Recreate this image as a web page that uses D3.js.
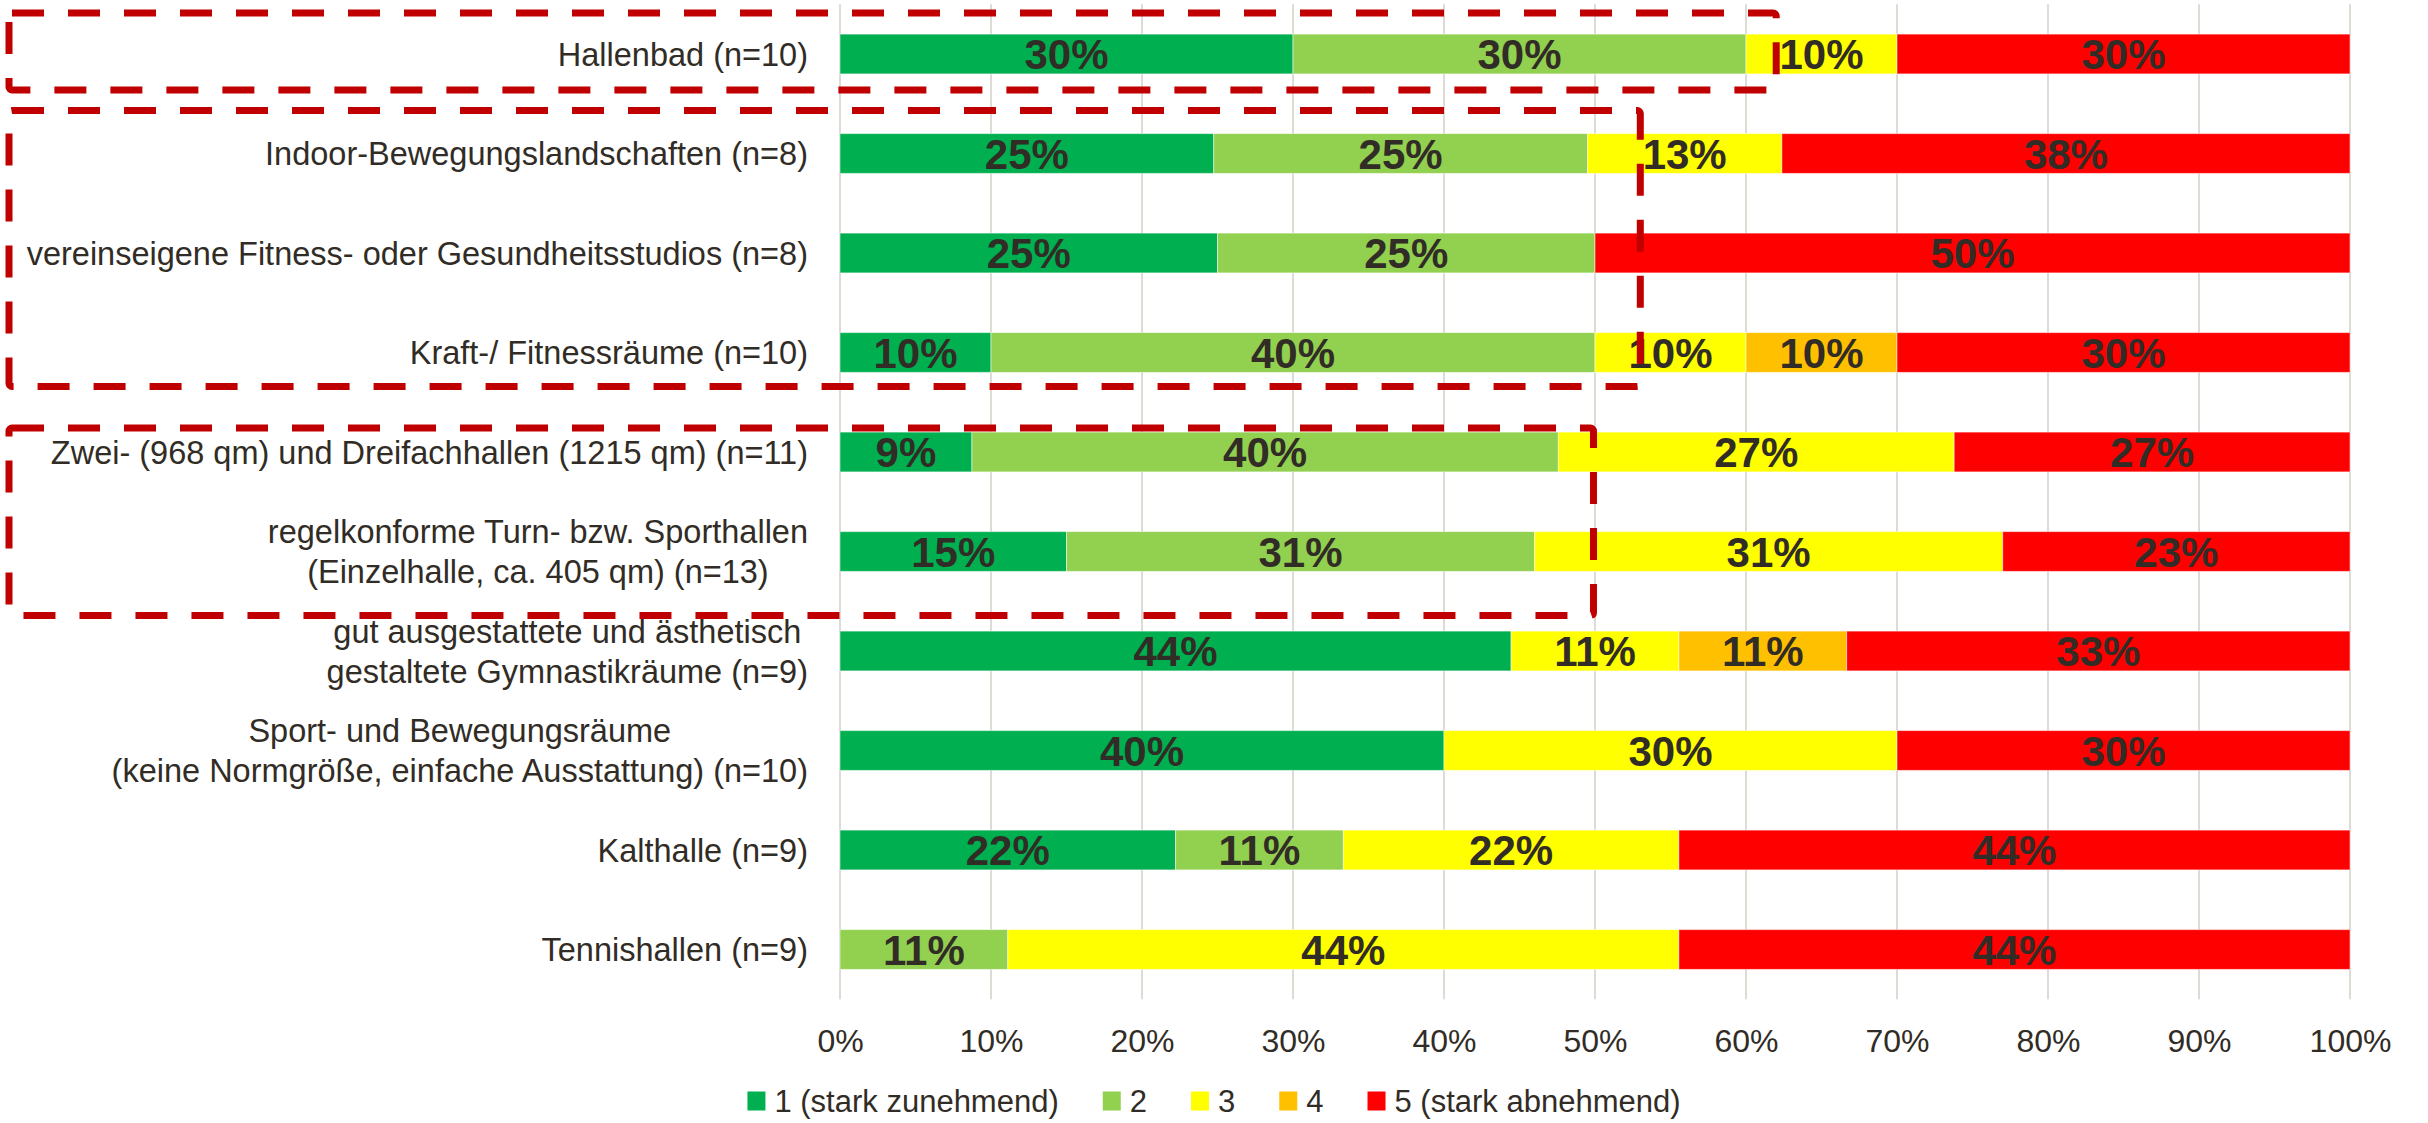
<!DOCTYPE html>
<html>
<head>
<meta charset="utf-8">
<script src="https://cdn.jsdelivr.net/npm/d3@7"></script>
<style>
  body { margin: 0; background: #fff; }
  svg text { font-family: "Liberation Sans", Arial, sans-serif; fill: #312c25; }
</style>
</head>
<body>
<svg id="chart" width="2428" height="1123"></svg>
<script>
var categories = [
    "Hallenbad (n=10)",
    "Indoor-Bewegungslandschaften (n=8)",
    "vereinseigene Fitness- oder Gesundheitsstudios (n=8)",
    "Kraft-/ Fitnessräume (n=10)",
    "Zwei- (968 qm) und Dreifachhallen (1215 qm) (n=11)",
    "regelkonforme Turn- bzw. Sporthallen\n(Einzelhalle, ca. 405 qm) (n=13)",
    "gut ausgestattete und ästhetisch\ngestaltete Gymnastikräume (n=9)",
    "Sport- und Bewegungsräume\n(keine Normgröße, einfache Ausstattung) (n=10)",
    "Kalthalle (n=9)",
    "Tennishallen (n=9)"
];
var seriesNames = ["1 (stark zunehmend)", "2", "3", "4", "5 (stark abnehmend)"];
var seriesColors = ["#00b050", "#92d050", "#ffff00", "#ffc000", "#ff0000"];
// percentages as labelled (rows are stacked to 100%)
var s1 = [30, 25, 25, 10, 9, 15, 44, 40, 22, 0];
var s2 = [30, 25, 25, 40, 40, 31, 0, 0, 11, 11];
var s3 = [10, 13, 0, 10, 27, 31, 11, 30, 22, 44];
var s4 = [0, 0, 0, 10, 0, 0, 11, 0, 0, 0];
var s5 = [30, 38, 50, 30, 27, 23, 33, 30, 44, 44];
var xTicks = [0, 0.1, 0.2, 0.3, 0.4, 0.5, 0.6, 0.7, 0.8, 0.9, 1];

// red dashed annotation frames: first/last row and right edge in percent
var frames = [
    {from: 0, to: 0, right: 0.62, padTop: 21, padBottom: 16},
    {from: 1, to: 3, right: 0.53, padTop: 23, padBottom: 14},
    {from: 4, to: 5, right: 0.499, padTop: 4, padBottom: 44}
];

var svg = d3.select("#chart"),
    plotLeft = 840,
    plotRight = 2350,
    plotTop = 4.25,
    plotBottom = 999.25;

var rows = categories.map(function(c, i) {
    return {cat: c, s1: s1[i], s2: s2[i], s3: s3[i], s4: s4[i], s5: s5[i]};
});
var keys = ["s1", "s2", "s3", "s4", "s5"];

var stack = d3.stack().keys(keys).offset(d3.stackOffsetExpand);
var layers = stack(rows);

var x = d3.scaleLinear().domain([0, 1]).range([plotLeft, plotRight]);
var y = d3.scaleBand().domain(categories).range([plotTop, plotBottom])
    .paddingInner(0.6).paddingOuter(0.3);

// gridlines
svg.append("g")
    .selectAll("line")
    .data(xTicks)
    .enter().append("line")
        .attr("x1", function(d) { return x(d); })
        .attr("x2", function(d) { return x(d); })
        .attr("y1", plotTop)
        .attr("y2", plotBottom)
        .attr("stroke", "#dedbd4")
        .attr("stroke-width", 2);

// x axis labels
var xAxis = svg.append("g")
    .attr("transform", "translate(0," + (plotBottom + 30) + ")")
    .call(d3.axisBottom(x).tickValues(xTicks).tickFormat(d3.format(".0%")).tickSize(0));
xAxis.select(".domain").remove();
xAxis.selectAll("text")
    .attr("font-size", 32)
    .attr("dy", "0.71em")
    .attr("y", 0);
xAxis.attr("font-family", null).attr("font-size", null);

// bars
var layer = svg.append("g").selectAll("g")
    .data(layers)
    .enter().append("g")
        .attr("fill", function(d, i) { return seriesColors[i]; });

layer.selectAll("rect")
    .data(function(d) { return d; })
    .enter().append("rect")
        .attr("x", function(d) { return x(d[0]); })
        .attr("y", function(d) { return y(d.data.cat); })
        .attr("width", function(d) { return x(d[1]) - x(d[0]); })
        .attr("height", y.bandwidth())
        .attr("stroke", "#ffffff")
        .attr("stroke-opacity", 0.5)
        .attr("stroke-width", 1);

// data labels
layers.forEach(function(l) {
    svg.append("g").selectAll("text")
        .data(l.filter(function(d) { return d.data[l.key] > 0; }))
        .enter().append("text")
            .attr("x", function(d) { return (x(d[0]) + x(d[1])) / 2; })
            .attr("y", function(d) { return y(d.data.cat) + y.bandwidth() / 2; })
            .attr("dy", "0.36em")
            .attr("text-anchor", "middle")
            .attr("font-size", 42)
            .attr("font-weight", "bold")
            .text(function(d) { return d.data[l.key] + "%"; });
});

// category labels, multi-line blocks centered, right edge at 808
var labelRight = 808,
    lineH = 40;
categories.forEach(function(c) {
    var lines = c.split("\n"),
        cy = y(c) + y.bandwidth() / 2,
        g = svg.append("g");
    var texts = lines.map(function(t, i) {
        return g.append("text")
            .attr("y", cy + (i - (lines.length - 1) / 2) * lineH)
            .attr("dy", "0.36em")
            .attr("font-size", 32.5)
            .attr("text-anchor", "middle")
            .text(t);
    });
    var maxW = d3.max(texts, function(t) { return t.node().getComputedTextLength(); });
    texts.forEach(function(t) { t.attr("x", labelRight - maxW / 2); });
});

// legend
var legend = svg.append("g"),
    lx = 0;
seriesNames.forEach(function(n, i) {
    var item = legend.append("g").attr("transform", "translate(" + lx + ",0)");
    item.append("rect")
        .attr("x", 0).attr("y", -9.5)
        .attr("width", 18).attr("height", 19)
        .attr("fill", seriesColors[i]);
    var t = item.append("text")
        .attr("x", 27).attr("dy", "0.36em")
        .attr("font-size", 31)
        .text(n);
    lx += 27 + t.node().getComputedTextLength() + 44;
});
var legendW = lx - 44;
legend.attr("transform", "translate(" + (1214 - legendW / 2) + ",1101)");

// annotation frames on top
svg.append("g").selectAll("rect")
    .data(frames)
    .enter().append("rect")
        .attr("x", 9)
        .attr("y", function(d) { return y(categories[d.from]) - d.padTop; })
        .attr("width", function(d) { return x(d.right) - 9; })
        .attr("height", function(d) {
            return y(categories[d.to]) + y.bandwidth() + d.padBottom - (y(categories[d.from]) - d.padTop);
        })
        .attr("rx", 3)
        .attr("fill", "none")
        .attr("stroke", "#c00000")
        .attr("stroke-width", 7)
        .attr("stroke-dasharray", "32 24");
</script>
</body>
</html>
